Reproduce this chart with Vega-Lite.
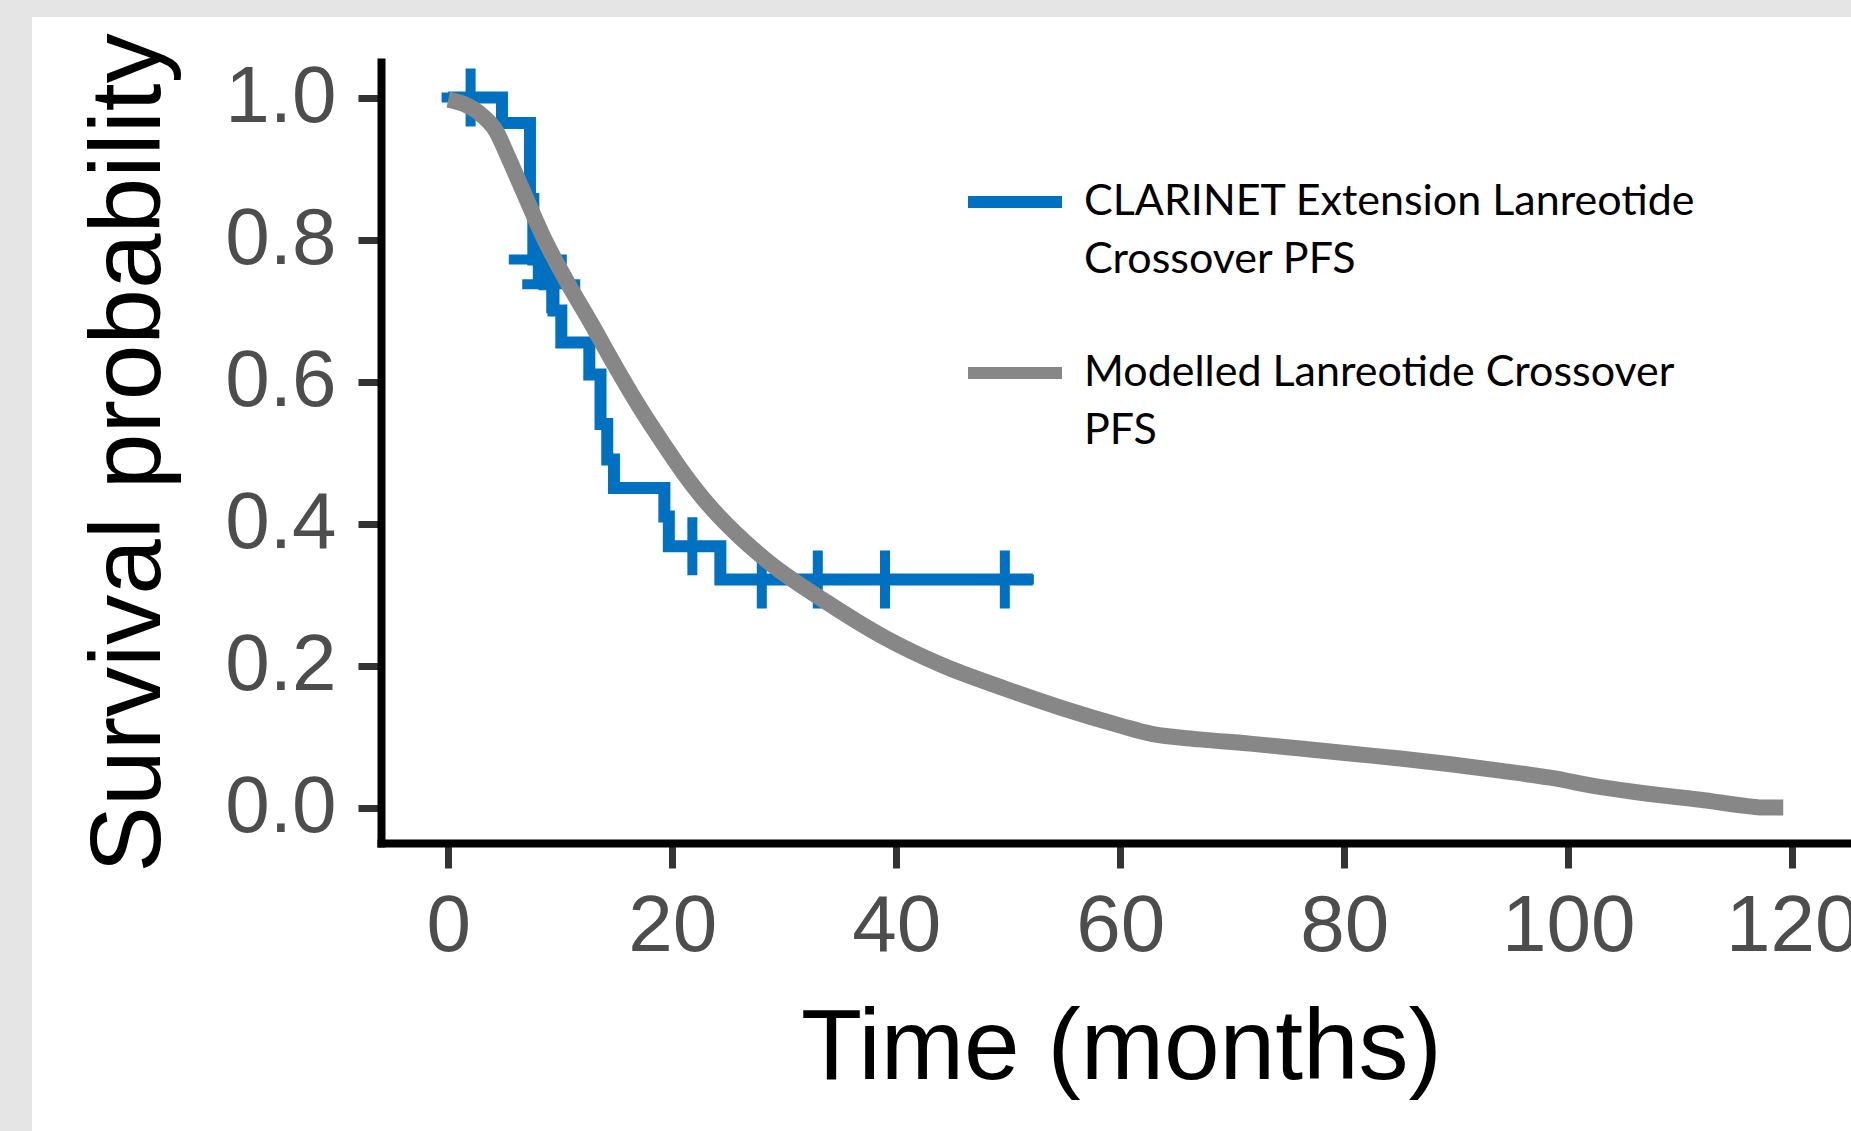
{
  "$schema": "https://vega.github.io/schema/vega-lite/v6.json",
  "width": 1470,
  "height": 781,
  "autosize": {"type": "none"},
  "padding": {"left": 381, "top": 62, "right": 0, "bottom": 288},
  "background": "white",
  "config": {
    "view": {"stroke": null},
    "style": {"guide-label": {"lineHeight": 58}},
    "axis": {
      "grid": false,
      "domainColor": "black",
      "domainWidth": 8,
      "domainCap": "square",
      "tickColor": "#333333",
      "tickWidth": 7,
      "labelFont": "Liberation Sans",
      "labelColor": "#4D4D4D",
      "labelFontSize": 80,
      "titleFont": "Liberation Sans",
      "titleColor": "black",
      "titleFontSize": 100,
      "titleFontWeight": "normal"
    }
  },
  "datasets": {
    "km": [
      {"t": 0, "s": 1.0},
      {"t": 4.8, "s": 0.964},
      {"t": 7.3, "s": 0.857},
      {"t": 7.6, "s": 0.772},
      {"t": 8.6, "s": 0.737},
      {"t": 9.4, "s": 0.70},
      {"t": 10.1, "s": 0.655},
      {"t": 12.6, "s": 0.61},
      {"t": 13.6, "s": 0.54},
      {"t": 14.2, "s": 0.49},
      {"t": 14.8, "s": 0.45},
      {"t": 19.3, "s": 0.41},
      {"t": 19.7, "s": 0.368},
      {"t": 24.3, "s": 0.321},
      {"t": 52.2, "s": 0.321}
    ],
    "censor": [
      {"t": 2.0, "s": 1.0},
      {"t": 8.0, "s": 0.772},
      {"t": 9.2, "s": 0.737},
      {"t": 21.8, "s": 0.368},
      {"t": 28.0, "s": 0.321},
      {"t": 33.0, "s": 0.321},
      {"t": 39.0, "s": 0.321},
      {"t": 49.7, "s": 0.321}
    ],
    "model": [
      {"t": 0, "s": 0.997},
      {"t": 1.5, "s": 0.99},
      {"t": 3.0, "s": 0.975},
      {"t": 4.3, "s": 0.952},
      {"t": 5.3, "s": 0.918},
      {"t": 6.5, "s": 0.875},
      {"t": 8.6, "s": 0.800},
      {"t": 10.7, "s": 0.738},
      {"t": 12.8, "s": 0.681},
      {"t": 14.9, "s": 0.622},
      {"t": 17.0, "s": 0.566},
      {"t": 19.1, "s": 0.515},
      {"t": 21.1, "s": 0.469},
      {"t": 23.2, "s": 0.427},
      {"t": 25.3, "s": 0.392},
      {"t": 28.5, "s": 0.347},
      {"t": 33.8, "s": 0.289},
      {"t": 39.0, "s": 0.239},
      {"t": 44.3, "s": 0.199},
      {"t": 49.6, "s": 0.168},
      {"t": 54.8, "s": 0.140},
      {"t": 60.1, "s": 0.115},
      {"t": 62.7, "s": 0.104},
      {"t": 67.1, "s": 0.096},
      {"t": 71.6, "s": 0.090},
      {"t": 76.1, "s": 0.083},
      {"t": 80.5, "s": 0.076},
      {"t": 85.0, "s": 0.069},
      {"t": 89.5, "s": 0.061},
      {"t": 93.9, "s": 0.052},
      {"t": 98.4, "s": 0.042},
      {"t": 102.8, "s": 0.029},
      {"t": 107.3, "s": 0.019},
      {"t": 111.8, "s": 0.011},
      {"t": 116.0, "s": 0.002},
      {"t": 117.3, "s": 0.0},
      {"t": 119.2, "s": 0.0}
    ]
  },
  "layer": [
    {
      "data": {"values": [{}]},
      "mark": {"type": "rect", "color": "#e5e5e5"},
      "encoding": {
        "x": {"datum": -80, "type": "quantitative", "scale": {"domain": [-6, 125.25], "nice": false, "zero": false}},
        "x2": {"datum": -37.16},
        "y": {"datum": 2, "type": "quantitative", "scale": {"domain": [-0.05, 1.05], "nice": false, "zero": false}},
        "y2": {"datum": -1}
      }
    },
    {
      "data": {"values": [{}]},
      "mark": {"type": "rect", "color": "#e5e5e5"},
      "encoding": {
        "x": {"datum": -80, "type": "quantitative", "scale": {"domain": [-6, 125.25], "nice": false, "zero": false}},
        "x2": {"datum": 200},
        "y": {"datum": 2, "type": "quantitative", "scale": {"domain": [-0.05, 1.05], "nice": false, "zero": false}},
        "y2": {"datum": 1.1134}
      }
    },
    {
      "data": {"name": "km"},
      "mark": {"type": "line", "interpolate": "step-after", "strokeWidth": 12},
      "encoding": {
        "x": {
          "field": "t", "type": "quantitative",
          "scale": {"domain": [-6, 125.25], "nice": false, "zero": false},
          "axis": {"values": [0, 20, 40, 60, 80, 100, 120], "tickSize": 25, "labelPadding": 19, "title": "Time (months)", "titlePadding": 33, "titleX": 740, "zindex": 1}
        },
        "y": {
          "field": "s", "type": "quantitative",
          "scale": {"domain": [-0.05, 1.05], "nice": false, "zero": false},
          "axis": {"values": [0, 0.2, 0.4, 0.6, 0.8, 1.0], "format": ".1f", "tickSize": 23, "labelPadding": 22, "title": "Survival probability", "titlePadding": 44, "zindex": 1}
        },
        "color": {
          "datum": "CLARINET Extension Lanreotide Crossover PFS",
          "type": "nominal",
          "scale": {
            "domain": ["CLARINET Extension Lanreotide Crossover PFS", "Modelled Lanreotide Crossover PFS"],
            "range": ["#0070C0", "#878787"]
          },
          "legend": {
            "orient": "none",
            "legendX": 581,
            "legendY": 87,
            "title": null,
            "padding": 0,
            "symbolType": "stroke",
            "symbolStrokeWidth": 12,
            "symbolSize": 8836,
            "labelFont": "Lato",
            "labelFontSize": 43,
            "labelColor": "black",
            "labelLimit": 1200,
            "labelOffset": 16,
            "labelBaseline": "middle",
            "rowPadding": 38,
            "labelExpr": "datum.label == 'CLARINET Extension Lanreotide Crossover PFS' ? ['CLARINET Extension Lanreotide', 'Crossover PFS'] : ['Modelled Lanreotide Crossover', 'PFS']"
          }
        }
      }
    },
    {
      "data": {"name": "censor"},
      "mark": {"type": "point", "shape": "M-1,0L1,0M0,-1L0,1", "filled": false, "strokeWidth": 10, "size": 3364, "color": "#0070C0", "opacity": 1},
      "encoding": {
        "x": {"field": "t", "type": "quantitative", "scale": {"domain": [-6, 125.25], "nice": false, "zero": false}},
        "y": {"field": "s", "type": "quantitative", "scale": {"domain": [-0.05, 1.05], "nice": false, "zero": false}}
      }
    },
    {
      "data": {"name": "model"},
      "mark": {"type": "line", "strokeWidth": 16, "interpolate": "monotone"},
      "encoding": {
        "x": {"field": "t", "type": "quantitative", "scale": {"domain": [-6, 125.25], "nice": false, "zero": false}},
        "y": {"field": "s", "type": "quantitative", "scale": {"domain": [-0.05, 1.05], "nice": false, "zero": false}},
        "color": {"datum": "Modelled Lanreotide Crossover PFS", "type": "nominal"}
      }
    }
  ]
}
